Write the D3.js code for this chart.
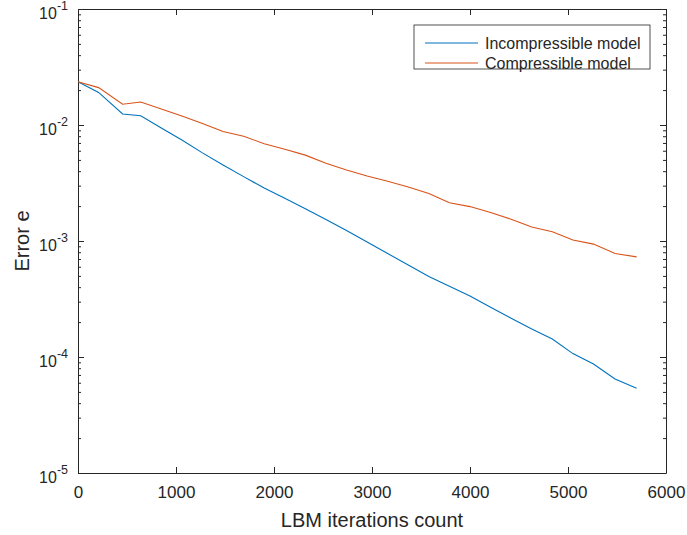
<!DOCTYPE html>
<html>
<head>
<meta http-equiv="Content-Type" content="text/html;charset=utf-8"/>
<title>LBM error</title>
<script src="https://d3js.org/d3.v7.min.js"></script>
<style type="text/css">
	body { margin: 0; background: #fff; }
	text { font-family: "Liberation Sans", Arial, Helvetica, sans-serif; fill: #262626; }
	.domain, .tick line { stroke: #262626; }
</style>
</head>
<body>
<svg width="687" height="535"></svg>
<script type="text/javascript">
// iteration counts where the error was sampled
var iterations = [0, 210, 455, 640, 850, 1060, 1270, 1480, 1690, 1900, 2110, 2320, 2530, 2740,
	2950, 3160, 3370, 3580, 3790, 4000, 4210, 4420, 4630, 4840, 5050, 5260, 5480, 5700];
// error e
var incompressible = [0.0236, 0.0191, 0.01245, 0.0120, 0.00944, 0.00743, 0.00575, 0.00452, 0.00359,
	0.00286, 0.00234, 0.0019, 0.00153, 0.00123, 0.00098, 0.00078, 0.00062, 0.000495, 0.000407,
	0.000336, 0.000269, 0.000216, 0.000174, 0.000143, 0.000107, 0.0000871, 0.0000646, 0.0000537];
var compressible = [0.0236, 0.0210, 0.0151, 0.0158, 0.01374, 0.01194, 0.0103, 0.0088, 0.0080,
	0.0069, 0.00617, 0.0055, 0.00468, 0.0041, 0.00363, 0.00327, 0.00292, 0.00257, 0.00214,
	0.00198, 0.00176, 0.00154, 0.00132, 0.0012, 0.00102, 0.00094, 0.00078, 0.00073];
var seriesNames = ["Incompressible model", "Compressible model"];
var seriesColors = ["#0072BD", "#D95319"];
var xTicks = [0, 1000, 2000, 3000, 4000, 5000, 6000];
var yTicks = [1e-5, 1e-4, 1e-3, 1e-2, 1e-1];

var svg = d3.select("svg");
var plotL = 78, plotR = 666, plotT = 9, plotB = 473;

var x = d3.scaleLinear().domain([0, 6000]).range([plotL, plotR]);
var y = d3.scaleLog().domain([1e-5, 1e-1]).range([plotB, plotT]);

// minor ticks 2..9 per decade
var yMinor = [];
yTicks.slice(0, -1).forEach(function(d) {
	for (var k = 2; k <= 9; k++) yMinor.push(d * k);
});

// x axes (bottom with labels, top ticks only)
var gx = svg.append("g").attr("transform", "translate(0," + plotB + ")")
	.call(d3.axisBottom(x).tickValues(xTicks).tickSizeInner(-6).tickSizeOuter(0).tickPadding(13)
		.tickFormat(d3.format("d")));
gx.selectAll("text").style("font-size", "17px");
svg.append("g").attr("transform", "translate(0," + plotT + ")")
	.call(d3.axisTop(x).tickValues(xTicks).tickSizeInner(-6).tickSizeOuter(0).tickFormat(""));

// y axes: majors, minors, both sides
svg.append("g").attr("transform", "translate(" + plotL + ",0)")
	.call(d3.axisLeft(y).tickValues(yTicks).tickSizeInner(-6).tickSizeOuter(0).tickFormat(""));
svg.append("g").attr("transform", "translate(" + plotL + ",0)")
	.call(d3.axisLeft(y).tickValues(yMinor).tickSizeInner(-3).tickSizeOuter(0).tickFormat(""))
	.select(".domain").remove();
svg.append("g").attr("transform", "translate(" + plotR + ",0)")
	.call(d3.axisRight(y).tickValues(yTicks).tickSizeInner(-6).tickSizeOuter(0).tickFormat(""));
svg.append("g").attr("transform", "translate(" + plotR + ",0)")
	.call(d3.axisRight(y).tickValues(yMinor).tickSizeInner(-3).tickSizeOuter(0).tickFormat(""))
	.select(".domain").remove();

// y tick labels as 10 with superscript exponent
yTicks.forEach(function(d) {
	var t = svg.append("text")
		.attr("x", 68).attr("y", y(d) + 10)
		.attr("text-anchor", "end")
		.style("font-size", "16px");
	t.append("tspan").text("10");
	t.append("tspan").attr("dy", -9).style("font-size", "12.5px")
		.text(String(Math.round(Math.log10(d))));
});

// data lines
var line = d3.line()
	.x(function(d) { return x(d[0]); })
	.y(function(d) { return y(d[1]); });
[incompressible, compressible].forEach(function(vals, i) {
	svg.append("path")
		.datum(iterations.map(function(it, j) { return [it, vals[j]]; }))
		.attr("fill", "none")
		.attr("stroke", seriesColors[i])
		.attr("stroke-width", 1.1)
		.attr("d", line);
});

// axis titles
svg.append("text")
	.attr("x", (plotL + plotR) / 2).attr("y", 527)
	.attr("text-anchor", "middle")
	.style("font-size", "20px")
	.text("LBM iterations count");
svg.append("text")
	.attr("transform", "translate(29," + ((plotT + plotB) / 2) + ") rotate(-90)")
	.attr("text-anchor", "middle")
	.style("font-size", "20px")
	.text("Error e");

// legend
var lg = svg.append("g");
lg.append("rect")
	.attr("x", 414).attr("y", 25).attr("width", 236).attr("height", 44)
	.attr("fill", "#fff").attr("stroke", "#262626").attr("stroke-width", 0.8);
seriesNames.forEach(function(name, i) {
	var ly = 43 + i * 20;
	lg.append("line")
		.attr("x1", 425).attr("x2", 478).attr("y1", ly).attr("y2", ly)
		.attr("stroke", seriesColors[i]).attr("stroke-width", 1.1);
	lg.append("text")
		.attr("x", 485).attr("y", ly).attr("dy", "0.35em")
		.style("font-size", "16px")
		.text(name);
});
</script>
</body>
</html>
